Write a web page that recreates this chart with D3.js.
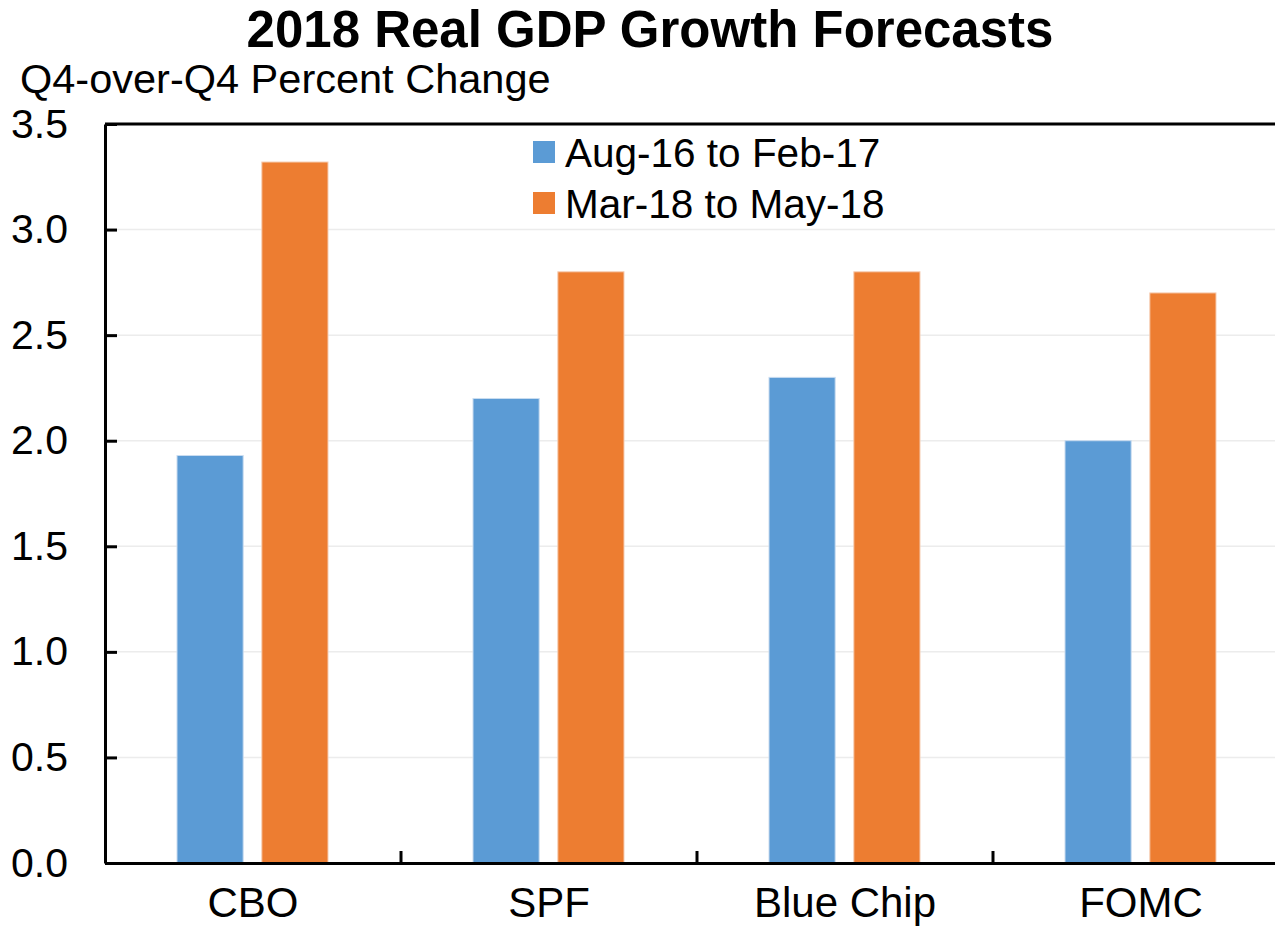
<!DOCTYPE html>
<html><head><meta charset="utf-8">
<script src="https://cdn.jsdelivr.net/npm/d3@7"></script>
<style>body{margin:0;background:#fff;}svg{display:block;font-family:"Liberation Sans",Arial,sans-serif;}</style>
</head><body>
<svg id="chart" width="1275" height="926"></svg>
<script>
const categories = ["CBO", "SPF", "Blue Chip", "FOMC"];
const seriesNames = ["Aug-16 to Feb-17", "Mar-18 to May-18"];
const seriesEarly = [1.93, 2.2, 2.3, 2.0];
const seriesLate = [3.32, 2.8, 2.8, 2.7];
const yTicks = [0, 0.5, 1.0, 1.5, 2.0, 2.5, 3.0, 3.5];
const colors = ["#5B9BD5", "#ED7D31"];

const svg = d3.select("#chart");
const mLeft = 105, mRight = 1289, mTop = 124, mBottom = 863;

const x0 = d3.scaleBand().domain(categories).range([mLeft, mRight]).padding(0);
const x1 = d3.scaleBand().domain(seriesNames).range([72, 223]).paddingInner(0.22).paddingOuter(0);
const y = d3.scaleLinear().domain([0, 3.5]).range([mBottom, mTop]);

// gridlines
svg.append("g").selectAll("line").data(yTicks.filter(d => d > 0 && d < 3.5)).join("line")
  .attr("x1", mLeft).attr("x2", mRight).attr("y1", d => y(d)).attr("y2", d => y(d))
  .attr("stroke", "#ececec").attr("stroke-width", 1.5);

// bars
const data = categories.map((c, i) => ({cat: c, vals: [seriesEarly[i], seriesLate[i]]}));
const groups = svg.append("g").selectAll("g").data(data).join("g")
  .attr("transform", d => `translate(${x0(d.cat)},0)`);
groups.selectAll("rect").data(d => d.vals.map((v, j) => ({name: seriesNames[j], v, j}))).join("rect")
  .attr("x", d => x1(d.name)).attr("width", x1.bandwidth())
  .attr("y", d => y(d.v)).attr("height", d => y(0) - y(d.v))
  .attr("fill", d => colors[d.j])
  .attr("stroke", d => d.j === 0 ? "#c9dcf0" : "#f6cdb3").attr("stroke-width", 1);

// top border
svg.append("line").attr("x1", mLeft).attr("x2", mRight).attr("y1", mTop).attr("y2", mTop)
  .attr("stroke", "#000").attr("stroke-width", 3);

// y axis
const yAxis = d3.axisLeft(y).tickValues(yTicks).tickFormat(d3.format(".1f")).tickSizeInner(-12).tickSizeOuter(0).tickPadding(37);
const yg = svg.append("g").attr("transform", `translate(${mLeft},0)`).call(yAxis);
yg.select(".domain").attr("stroke", "#000").attr("stroke-width", 3);
yg.selectAll(".tick line").attr("stroke", "#000").attr("stroke-width", 3);
yg.selectAll(".tick text").attr("font-size", 41).attr("fill", "#000")
  .attr("font-family", "'Liberation Sans', Arial, sans-serif");

// x axis
const xAxis = d3.axisBottom(x0).tickSize(0).tickPadding(24);
const xg = svg.append("g").attr("transform", `translate(0,${mBottom})`).call(xAxis);
xg.select(".domain").attr("stroke", "#000").attr("stroke-width", 3);
xg.selectAll(".tick text").attr("font-size", 42).attr("fill", "#000").attr("dy", "0.71em")
  .attr("font-family", "'Liberation Sans', Arial, sans-serif");
// category separators
svg.append("g").selectAll("line").data(categories.slice(1)).join("line")
  .attr("x1", d => x0(d)).attr("x2", d => x0(d)).attr("y1", mBottom).attr("y2", mBottom - 12)
  .attr("stroke", "#000").attr("stroke-width", 3);

// title
svg.append("text").attr("x", 650).attr("y", 47).attr("text-anchor", "middle")
  .attr("font-size", 51).attr("font-weight", "bold").text("2018 Real GDP Growth Forecasts");
svg.append("text").attr("x", 20).attr("y", 93).attr("font-size", 41.5)
  .text("Q4-over-Q4 Percent Change");

// legend
const lg = svg.append("g").selectAll("g").data(seriesNames).join("g")
  .attr("transform", (d, i) => `translate(533,${152 + i * 51})`);
lg.append("rect").attr("x", 0).attr("y", -11).attr("width", 22).attr("height", 22)
  .attr("fill", (d, i) => colors[i]);
lg.append("text").attr("x", 32).attr("y", 0).attr("dy", "0.36em").attr("font-size", 40.5).text(d => d);
</script>
</body></html>
